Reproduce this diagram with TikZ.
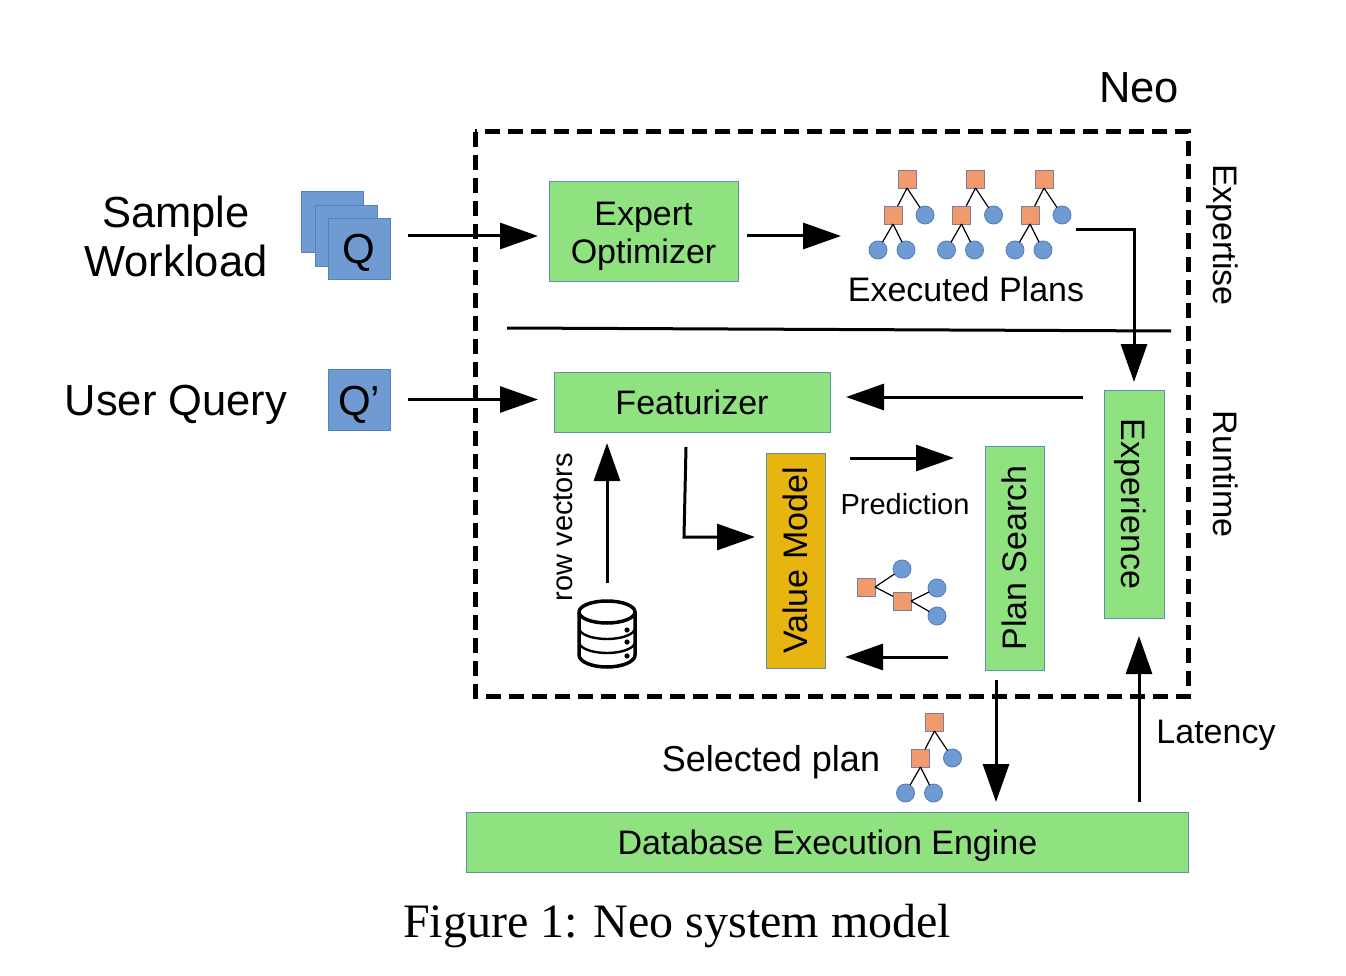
\documentclass[tikz,border=0pt]{standalone}
\usepackage{tikz}
\usepackage{xcolor}
\usepackage{fontspec}
\setmainfont{Liberation Sans}
\newfontfamily\capfont{Liberation Serif}
\usetikzlibrary{arrows.meta,positioning,shapes.geometric,calc}
\definecolor{boxgreen}{RGB}{144,225,128}
\definecolor{boxedge}{RGB}{96,145,170}
\definecolor{valueyellow}{RGB}{232,181,16}
\definecolor{queryblue}{RGB}{112,155,210}
\definecolor{queryedge}{RGB}{84,130,190}
\definecolor{planorange}{RGB}{241,155,108}
\definecolor{planedge}{RGB}{125,125,160}
\tikzset{
  greenbox/.style={rectangle, draw=boxedge, line width=0.9pt, fill=boxgreen, inner sep=0pt, outer sep=0pt, align=center, font=\fontsize{34}{38}\selectfont},
  querybox/.style={rectangle, draw=queryedge, line width=0.9pt, fill=queryblue, inner sep=0pt, outer sep=0pt, minimum width=62pt, minimum height=61pt, text height=31pt, text depth=0pt, font=\fontsize{42}{46}\selectfont},
  flow/.style={-{Triangle[length=38pt,width=26pt]}, line width=3pt},
  bigtext/.style={inner sep=0pt, align=center, font=\fontsize{43.5}{49}\selectfont},
  midtext/.style={inner sep=0pt, font=\fontsize{34}{38}\selectfont},
  smalltext/.style={inner sep=0pt, font=\fontsize{29}{33}\selectfont},
  planop/.style={rectangle, draw=planedge, line width=0.9pt, fill=planorange, minimum size=18pt, inner sep=0pt, outer sep=0pt},
  planleaf/.style={circle, draw=queryedge, line width=0.9pt, fill=queryblue, minimum size=18pt, inner sep=0pt, outer sep=0pt},
  pics/plantree/.style={code={
    \node[planop] (-root) at (0,0) {};
    \node[planop] (-join) at (-14,36) {};
    \node[planleaf] (-scan) at (18,36) {};
    \node[planleaf] (-lefta) at (-29,71) {};
    \node[planleaf] (-leftb) at (-1,71) {};
    \draw[line width=1.2pt] (-root.#1) -- (-join);
    \draw[line width=1.2pt] (-root.#1) -- (-scan);
    \draw[line width=1.2pt] (-join.#1) -- (-lefta);
    \draw[line width=1.2pt] (-join.#1) -- (-leftb);
  }},
  pics/plantree/.default=south
}

\begin{document}
\begin{tikzpicture}[x=1pt, y=-1pt]
\useasboundingbox (0,0) rectangle (1346,976);

% neo frame
\draw[line width=5pt, dash pattern=on 15pt off 8pt] (475,132) rectangle (1188.5,696);
\node[bigtext] (neo) at (1139,88) {Neo};
\node[midtext, rotate=-90] (expertise) at (1222,235) {Expertise};
\node[midtext, rotate=-90] (runtime) at (1226,474) {Runtime};

% inputs
\node[bigtext] (sample) at (176,236) {Sample\\Workload};
\node[querybox] (qa) at (332,221.5) {};
\node[querybox] (qb) at (346,235.5) {};
\node[querybox] (qc) at (359,248.5) {Q};
\node[bigtext, text depth=0pt] (user) at (176,400) {User Query};
\node[querybox] (qp) at (359,399.5) {Q’};

% boxes
\node[greenbox, minimum width=189pt, minimum height=100pt] (expert) at (643.5,231) {\rule{0pt}{35pt}Expert\\Optimizer};
\node[greenbox, minimum width=276pt, minimum height=60pt] (feat) at (692,402) {Featurizer};
\node[greenbox, fill=valueyellow, minimum width=215pt, minimum height=59pt, rotate=90] (value) at (795.5,560.5) {Value Model};
\node[greenbox, minimum width=224pt, minimum height=59pt, rotate=90] (search) at (1014.5,558) {Plan Search};
\node[greenbox, text depth=0pt, minimum width=228pt, minimum height=60pt, rotate=-90] (exper) at (1134,504) {Experience};
\node[greenbox, text depth=0pt, minimum width=722pt, minimum height=60pt] (engine) at (827.5,842) {Database Execution Engine};

% plans
\pic (plana) at (907,179) {plantree};
\pic (planb) at (975.5,179) {plantree};
\pic (planc) at (1044,179) {plantree};
\pic[rotate=90] (pland) at (866,587) {plantree=east};
\pic (plane) at (934.5,722) {plantree};
\node[midtext] (executed) at (966,289) {Executed Plans};
\node[smalltext] (prediction) at (905,504) {Prediction};
\node[smalltext, rotate=90] (rowvec) at (563,527) {row vectors};
\node[midtext, text depth=0pt, font=\fontsize{36}{40}\selectfont] (selected) at (771,758) {Selected plan};
\node[midtext, text depth=0pt] (latency) at (1216,732) {Latency};

% database
\node[minimum width=56pt, minimum height=68pt, inner sep=0pt, outer sep=0pt] (db) at (607,634) {};
\draw[line width=3.5pt] (db.west |- 0,612) arc[start angle=180, end angle=-180, x radius=28pt, y radius=11pt];
\draw[line width=3.5pt] (db.west |- 0,612) -- (db.west |- 0,655) arc[start angle=180, end angle=360, x radius=28pt, y radius=12pt] -- (db.east |- 0,612);
\draw[line width=2.4pt] (db.west |- 0,628) arc[start angle=180, end angle=360, x radius=28pt, y radius=11pt];
\draw[line width=2.4pt] (db.west |- 0,642) arc[start angle=180, end angle=360, x radius=28pt, y radius=11pt];
\foreach \doty in {630,642,656}
  \fill (627,\doty) circle (2.6pt);

% separator
\coordinate (sepl) at (507,328);
\coordinate (sepr) at (1171,331);
\draw[line width=3pt] (sepl) -- (sepr);

% arrows
\coordinate (sampleout) at (408,236);
\coordinate (planout) at (1076,230);
\coordinate (featout) at (686,447);
\coordinate (featbend) at (684,537);
\coordinate (predout) at (850,458);
\coordinate (planback) at (948,657);
\coordinate (expback) at (1083,397);
\coordinate (selectout) at (996,680);
\coordinate (latencyout) at (1139,812);
\coordinate (plansin) at (841,236);
\draw[flow, shorten >=11pt] (sampleout) -- (sampleout -| expert.west);
\draw[flow, shorten <=9pt] (expert.east |- plansin) -- (plansin);
\draw[flow, shorten <=18pt, shorten >=16pt] (qp.east) -- (feat.west |- qp.east);
\draw[flow, shorten >=8pt] (planout) -| (exper.west);
\draw[flow, shorten >=16pt] (expback) -- (expback -| feat.east);
\draw[flow, shorten >=11pt] (featout) -- (featbend) -- (featbend -| value.north);
\draw[flow, shorten <=17pt, shorten >=11pt] (db.north) -- (db.north |- feat.south);
\draw[flow, shorten >=31pt] (predout) -- (predout -| search.north);
\draw[flow, shorten >=20pt] (planback) -- (planback -| value.south);
\draw[flow, shorten >=10pt] (selectout) -- (selectout |- engine.north);
\draw[flow, shorten <=10pt, shorten >=18pt] (latencyout) -- (latencyout |- exper.east);

% caption
\node[inner sep=0pt, text depth=0pt, font=\capfont\fontsize{48}{52}\selectfont] (caption) at (677,921) {Figure 1: Neo system model};
\end{tikzpicture}
\end{document}
